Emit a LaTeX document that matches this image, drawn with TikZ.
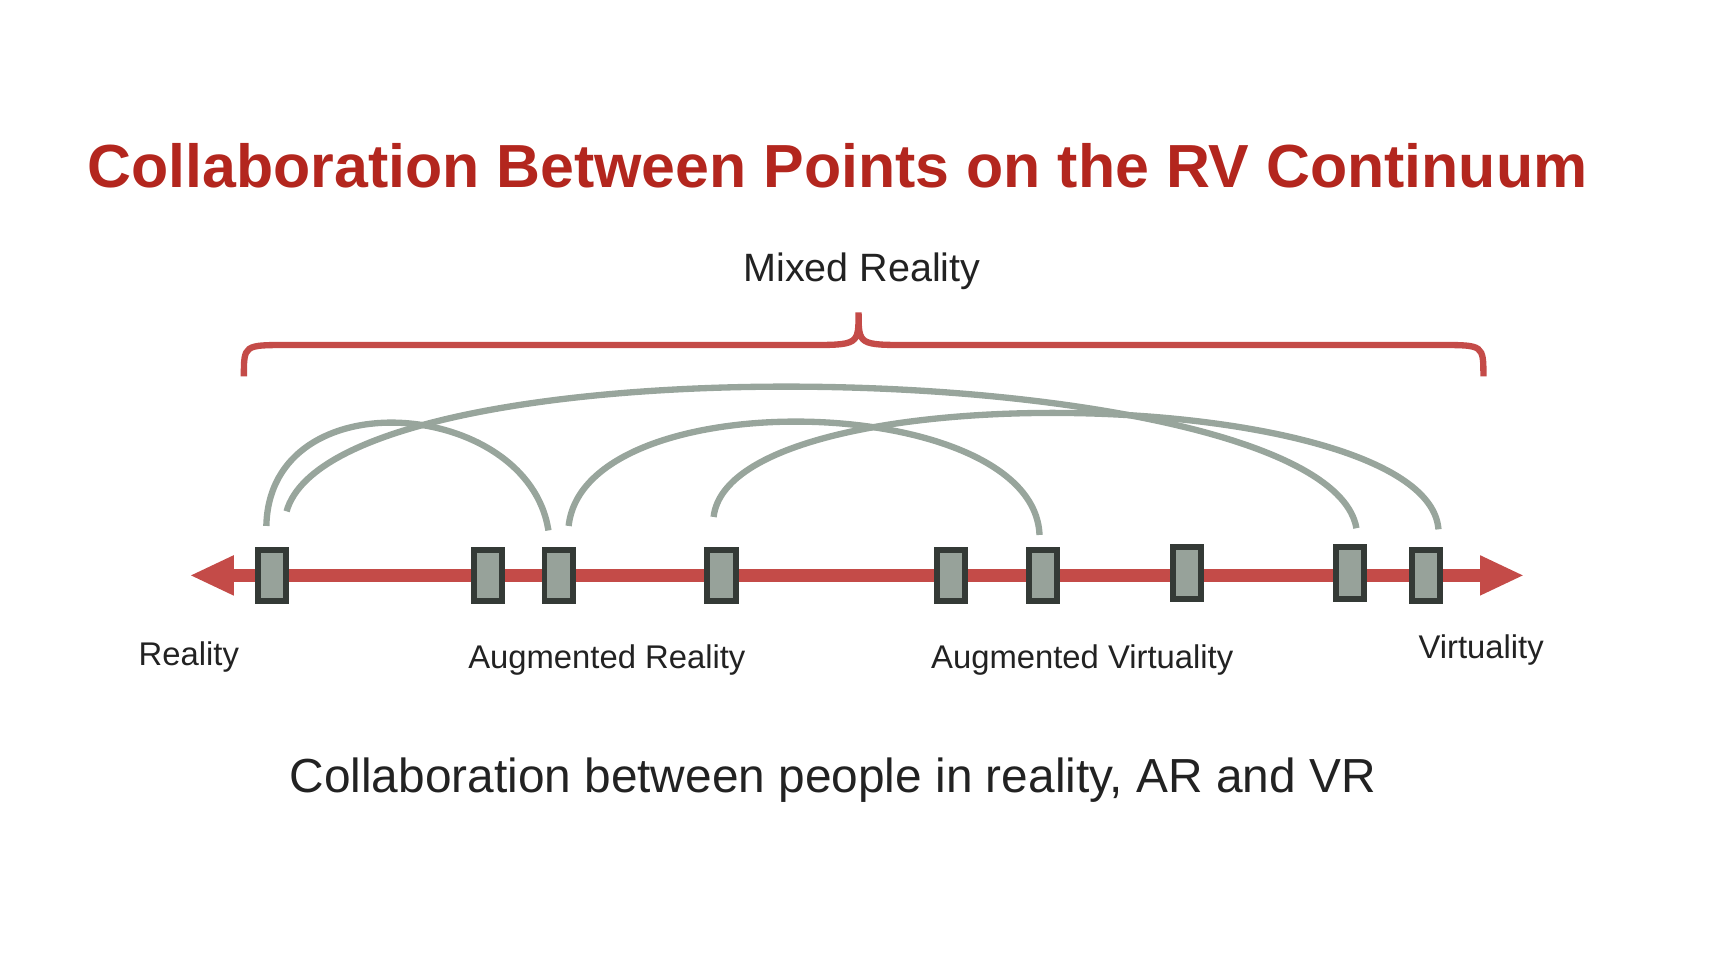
\documentclass[tikz,border=0pt]{standalone}
\usepackage{fontspec}
\setmainfont{Liberation Sans}
\definecolor{titlered}{HTML}{B3261E}
\definecolor{axisred}{HTML}{C44B48}
\definecolor{arcgray}{HTML}{98A59C}
\definecolor{boxgray}{HTML}{97A29A}
\definecolor{boxedge}{HTML}{343A36}
\definecolor{textdark}{HTML}{222222}
\begin{document}
\begin{tikzpicture}[x=0.01cm,y=-0.01cm,
    point/.style={draw=boxedge,line width=1.5pt,fill=boxgray,minimum width=0.25cm,minimum height=0.46cm,inner sep=0pt},
    link/.style={draw=arcgray,line width=1.6pt},
    label/.style={text=textdark,font=\fontsize{8.3}{10}\selectfont}]

    \useasboundingbox (0,0) rectangle (1543,856);

    %title
    \node[anchor=base west,inner sep=0pt,text=titlered,font=\fontsize{15.4}{19}\selectfont\bfseries] (title) at (77,167) {Collaboration Between Points on the RV Continuum};

    %brace
    \node[text=textdark,font=\fontsize{10}{12}\selectfont] (mixed) at (767,241) {Mixed Reality};
    \draw[axisred,line width=1.6pt] (217,335) .. controls (217,307) .. (255,307) -- (718,307) .. controls (764,307) .. (764,278)
        .. controls (764,307) .. (810,307) -- (1282,307) .. controls (1320,307) .. (1320,335);

    %axis
    \draw[axisred,line width=3.4pt] (205,512) -- (1320,512);
    \fill[axisred] (170,512) -- (208,494) -- (208,530) -- cycle;
    \fill[axisred] (1355,512) -- (1317,494) -- (1317,530) -- cycle;

    %points
    \node[point] (p1) at (242,512) {};
    \node[point] (p2) at (434,512) {};
    \node[point] (p3) at (497,512) {};
    \node[point] (p4) at (642,512) {};
    \node[point] (p5) at (846,512) {};
    \node[point] (p6) at (928,512) {};
    \node[point] (p7) at (1056,510) {};
    \node[point] (p8) at (1201,510) {};
    \node[point] (p9) at (1269,512) {};

    %links
    \coordinate (a1) at (237,468);
    \coordinate (b1) at (488,472);
    \coordinate (a2) at (255,455);
    \coordinate (b2) at (1207,470);
    \coordinate (a3) at (506,468);
    \coordinate (b3) at (925,476);
    \coordinate (a4) at (635,460);
    \coordinate (b4) at (1280,471);
    \draw[link] (a1) .. controls (240,335) and (470,355) .. (b1);
    \draw[link] (a2) .. controls (300,295) and (1180,315) .. (b2);
    \draw[link] (a3) .. controls (520,338) and (920,348) .. (b3);
    \draw[link] (a4) .. controls (650,328) and (1270,342) .. (b4);

    %labels
    \node[label] (reality) at (168,585) {Reality};
    \node[label] (ar) at (540,587) {Augmented Reality};
    \node[label] (av) at (963,587) {Augmented Virtuality};
    \node[label] (virtuality) at (1318,578) {Virtuality};

    \node[text=textdark,font=\fontsize{12.1}{15}\selectfont] (caption) at (741,694) {Collaboration between people in reality, AR and VR};

\end{tikzpicture}
\end{document}
